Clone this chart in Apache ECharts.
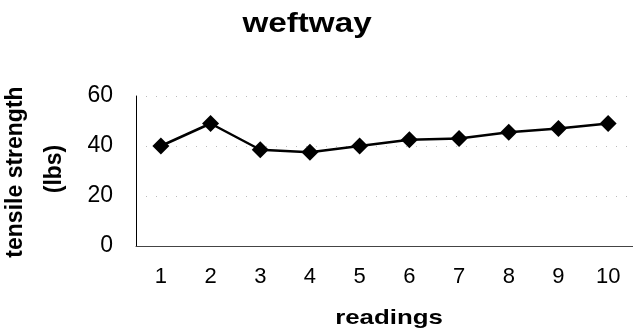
<!DOCTYPE html>
<html>
<head>
<meta charset="utf-8">
<script src="https://cdn.jsdelivr.net/npm/echarts@6/dist/echarts.min.js"></script>
<style>html,body{margin:0;padding:0;background:#fff;}#c{width:633px;height:334px;}</style>
</head>
<body>
<div id="c"></div>
<script>
const categories = ['1','2','3','4','5','6','7','8','9','10'];
const strength = [40, 49, 38.5, 37.5, 40, 42.5, 43, 45.5, 47, 49];
const yTicks = [0, 20, 40, 60];
const titleText = 'weftway';
const xName = 'readings';
const yNameLines = ['tensile strength', '(lbs)'];

const chart = echarts.init(document.getElementById('c'));
chart.setOption({
  backgroundColor: '#fff',
  animation: false,
  graphic: [
    { type: 'text', x: 307, y: 25, scaleX: 1.23, scaleY: 1,
      style: { text: titleText, font: 'bold 27px "Liberation Sans"', fill: '#000',
        textAlign: 'center', textVerticalAlign: 'middle' } },
    { type: 'text', x: 389, y: 318, scaleX: 1.23, scaleY: 1,
      style: { text: xName, font: 'bold 21px "Liberation Sans"', fill: '#000',
        textAlign: 'center', textVerticalAlign: 'middle' } },
    { type: 'text', x: 16, y: 172, rotation: Math.PI / 2,
      style: { text: yNameLines[0], font: 'bold 23px "Liberation Sans"', fill: '#000',
        textAlign: 'center', textVerticalAlign: 'middle' } },
    { type: 'text', x: 55, y: 169, rotation: Math.PI / 2,
      style: { text: yNameLines[1], font: 'bold 23px "Liberation Sans"', fill: '#000',
        textAlign: 'center', textVerticalAlign: 'middle' } }
  ],
  grid: { left: 136, right: 0, top: 96, bottom: 88, outerBoundsMode: 'none', containLabel: false },
  xAxis: {
    type: 'category', data: categories, boundaryGap: true,
    axisLine: { lineStyle: { color: '#444', width: 1 } },
    axisTick: { show: false },
    axisLabel: { fontFamily: 'Liberation Sans', fontSize: 22, color: '#000', margin: 20 }
  },
  yAxis: {
    type: 'value', min: 0, max: 60, interval: 20,
    axisLine: { show: true, lineStyle: { color: '#000', width: 1 } },
    axisTick: { show: false },
    axisLabel: { fontFamily: 'Liberation Sans', fontSize: 23, color: '#000', margin: 23,
      formatter: v => yTicks.includes(v) ? String(v) : '' },
    splitLine: { show: true, lineStyle: { color: '#bbb', type: [1, 9], width: 1 } }
  },
  series: [{
    type: 'line', data: strength,
    symbol: 'diamond', symbolSize: 17,
    lineStyle: { color: '#000', width: 2.5 },
    itemStyle: { color: '#000' }
  }]
});
</script>
</body>
</html>
